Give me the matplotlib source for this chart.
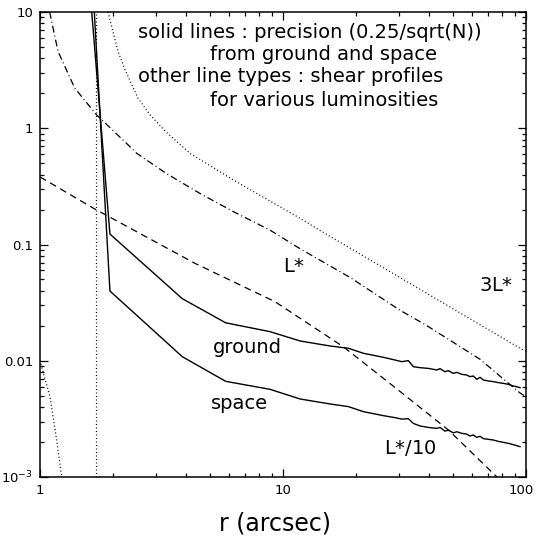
import matplotlib
matplotlib.use("Agg")
import matplotlib.pyplot as plt
import matplotlib.transforms as mtransforms
from matplotlib.ticker import FixedLocator, FixedFormatter, LogLocator, NullFormatter

# precision 0.25/sqrt(N), ground based
ground_r = [1.5, 1.94, 3.85, 5.81, 8.84, 11.75, 15.6, 18.6, 21.4, 25.9,
            28.9, 30.8, 32.8, 34.4, 36.6, 39.6, 42.9, 44.3, 46.4, 47.9,
            50.2, 51.9, 54.4, 57.0, 58.8, 60.7, 62.7, 64.7, 66.8, 70.0,
            73.4, 76.9, 80.7, 84.6, 88.7, 91.5, 94.5]
ground_sig = [86.0, 0.123, 0.0342, 0.0212, 0.0178, 0.0148, 0.0134, 0.0128, 0.0116, 0.0107,
              0.01015, 0.00982, 0.01002, 0.00889, 0.00872, 0.0086, 0.00833, 0.00855, 0.00805, 0.00822,
              0.00779, 0.00795, 0.00764, 0.00754, 0.0073, 0.00739, 0.00692, 0.0072, 0.00683, 0.0067,
              0.00661, 0.00648, 0.00639, 0.00627, 0.00606, 0.00598, 0.00587]

# precision 0.25/sqrt(N), space based
space_r = ground_r
space_sig = [586.0, 0.0398, 0.01084, 0.00665, 0.00568, 0.00469, 0.00425, 0.00403, 0.00365, 0.00337,
             0.00324, 0.00315, 0.00317, 0.00289, 0.00275, 0.00267, 0.00262, 0.00267, 0.00248, 0.00253,
             0.0024, 0.00245, 0.002375, 0.00234, 0.002253, 0.0023, 0.002194, 0.002238, 0.002137, 0.002109,
             0.00208, 0.002026, 0.001987, 0.001948, 0.001897, 0.00186, 0.001824]

# shear profiles
lstar_r = [1.096, 1.186, 1.389, 1.705, 2.30, 2.5, 3.3, 4.55, 6.3, 8.84, 11.75, 18.9, 30.3, 38.4, 64.7, 94.5, 100]
lstar_g = [10.0, 4.59, 2.22, 1.31, 0.722, 0.609, 0.41, 0.275, 0.19, 0.133, 0.092, 0.052, 0.0272, 0.0205, 0.0103, 0.00528, 0.0049]

lstar3_r = [1.905, 2.094, 2.24, 2.53, 2.84, 3.3, 4.14, 6.25, 11.75, 14.2, 30.3, 94.5, 100]
lstar3_g = [10.0, 4.59, 3.17, 1.82, 1.30, 0.93, 0.609, 0.359, 0.168, 0.132, 0.052, 0.0128, 0.0121]
lstar3_in_r = [1.0, 1.099, 1.171, 1.228, 1.25]
lstar3_in_g = [0.01, 0.0049, 0.00208, 0.001, 0.0008]
lstar3_crit = 1.7

lstar10_r = [1.0, 1.66, 2.10, 4.34, 9.27, 17.7, 29.8, 47.9, 74.5, 80]
lstar10_g = [0.381, 0.205, 0.157, 0.0689, 0.0322, 0.0132, 0.0056, 0.00254, 0.00104, 0.0009]

fig = plt.figure(figsize=(5.36, 5.39), dpi=100)
ax = fig.add_axes([40 / 536, 1 - 477 / 539, 486 / 536, 465 / 539])

ax.plot(ground_r, ground_sig, color="black", lw=1.0)
ax.plot(space_r, space_sig, color="black", lw=1.0)
ax.plot(lstar_r, lstar_g, color="black", lw=0.9, dashes=(5.5, 2.5, 0.8, 2.5))
ax.plot(lstar3_r, lstar3_g, color="black", lw=0.9, dashes=(0.8, 2.0))
ax.plot(lstar3_in_r, lstar3_in_g, color="black", lw=0.9, dashes=(0.8, 2.0))
ax.axvline(lstar3_crit, color="black", lw=0.9, dashes=(0.8, 2.0))
ax.plot(lstar10_r, lstar10_g, color="black", lw=0.9, dashes=(5.5, 3.8))

ax.set_xscale("log")
ax.set_yscale("log")
ax.set_xlim(1, 100)
ax.set_ylim(1e-3, 10)

ax.xaxis.set_major_locator(FixedLocator([1, 10, 100]))
ax.xaxis.set_major_formatter(FixedFormatter(["1", "10", "100"]))
ax.yaxis.set_major_locator(FixedLocator([1e-3, 1e-2, 1e-1, 1, 10]))
ax.yaxis.set_major_formatter(FixedFormatter(["$10^{-3}$", "0.01", "0.1", "1", "10"]))
for a in (ax.xaxis, ax.yaxis):
    a.set_minor_locator(LogLocator(base=10, subs=range(2, 10)))
    a.set_minor_formatter(NullFormatter())
ax.tick_params(which="both", direction="in", top=True, right=True, labelsize=9.5, width=0.9)
ax.tick_params(which="major", length=6, pad=5)
ax.tick_params(which="minor", length=3)
for s in ax.spines.values():
    s.set_linewidth(1.1)

fs = 14
fig.text(138 / 536, 1 - 32 / 539, "solid lines : precision (0.25/sqrt(N))", fontsize=fs, va="center")
fig.text(210 / 536, 1 - 54 / 539, "from ground and space", fontsize=fs, va="center")
fig.text(138 / 536, 1 - 77 / 539, "other line types : shear profiles", fontsize=fs, va="center")
fig.text(210 / 536, 1 - 100 / 539, "for various luminosities", fontsize=fs, va="center")

ax.text(11.1, 0.065, "L$*$", fontsize=fs, ha="center", va="center")
ax.text(75.3, 0.044, "3L$*$", fontsize=fs, ha="center", va="center")
ax.text(7.11, 0.0131, "ground", fontsize=fs, ha="center", va="center")
ax.text(6.65, 0.00425, "space", fontsize=fs, ha="center", va="center")
ax.text(33.3, 0.00177, "L$*$/10", fontsize=fs, ha="center", va="center")

fig.text(275 / 536, 1 - 524 / 539, "r (arcsec)", fontsize=17, ha="center", va="center")

# keep the "100" tick label inside the canvas
fig.canvas.draw()
last = ax.get_xticklabels()[-1]
last.set_transform(last.get_transform() + mtransforms.ScaledTranslation(-5 / 100, 0, fig.dpi_scale_trans))

fig.savefig("out.png", dpi=100)
